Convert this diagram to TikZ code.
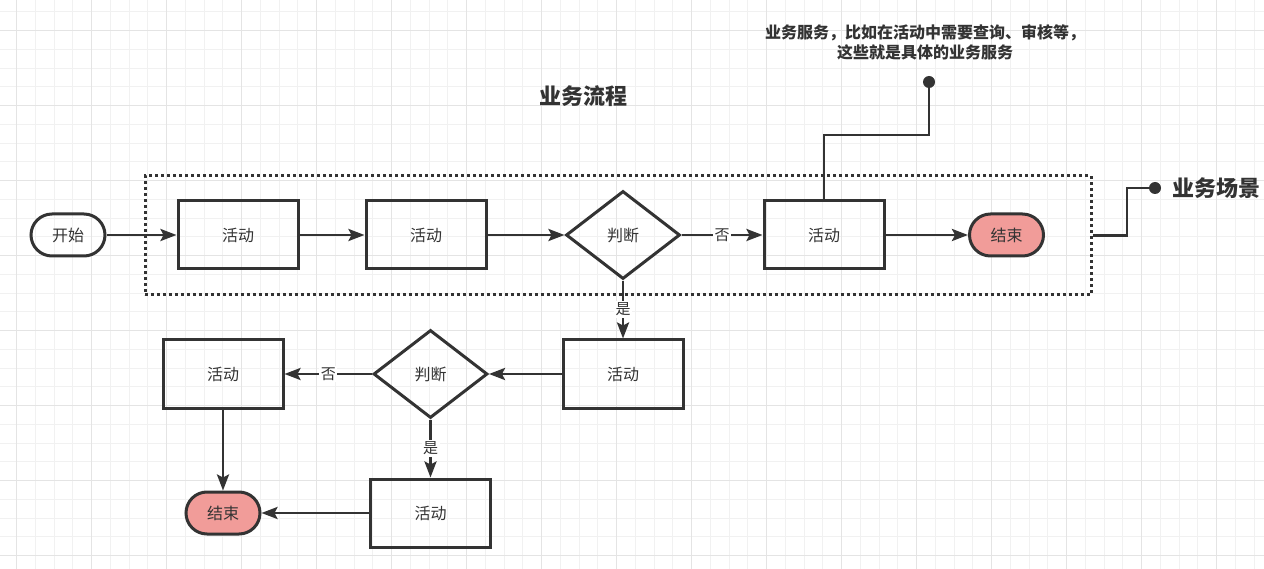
\documentclass[tikz,border=0pt]{standalone}
\usepackage{fontspec}
\setmainfont{Noto Sans CJK SC}
\usetikzlibrary{arrows.meta,shapes.geometric}
\definecolor{ln}{HTML}{333333}
\definecolor{gmin}{HTML}{F1F1F1}
\definecolor{gmaj}{HTML}{E4E4E4}
\definecolor{endfill}{HTML}{F19C99}
\begin{document}
\begin{tikzpicture}[x=1pt,y=-1pt,
  every node/.style={text=ln},
  act/.style={draw=ln, line width=3pt, minimum width=120pt, minimum height=68pt, inner sep=0pt, font=\fontsize{16}{16}\selectfont},
  term/.style={draw=ln, line width=3pt, rounded corners=21pt, minimum width=74pt, minimum height=42pt, inner sep=0pt, font=\fontsize{16}{16}\selectfont},
  endterm/.style={term, fill=endfill},
  dec/.style={diamond, draw=ln, line width=3pt, minimum width=114pt, minimum height=88pt, inner sep=0pt, font=\fontsize{16}{16}\selectfont},
  arr/.style={draw=ln, line width=2.7pt, -{Stealth[length=16pt,width=12pt,inset=3pt]}},
  plain/.style={draw=ln, line width=2.6pt},
  lbl/.style={fill=white, inner sep=1.5pt, font=\fontsize{15}{15}\selectfont},
  dotend/.style={circle, fill=ln, minimum size=12pt, inner sep=0pt},
  title/.style={font=\fontsize{22}{22}\selectfont\bfseries}
]
\useasboundingbox (0,0) rectangle (1264,569);
\fill[white] (0,0) rectangle (1264,569);
% grid
\foreach \i in {0,...,68} {
  \draw[gmin, line width=1pt] ({-2.05+18.75*\i},0) -- ({-2.05+18.75*\i},569);
}
\foreach \i in {0,...,31} {
  \draw[gmin, line width=1pt] (0,{-6.8+18.75*\i}) -- (1264,{-6.8+18.75*\i});
}
\foreach \i in {0,...,17} {
  \draw[gmaj, line width=1pt] ({16.7+75*\i},0) -- ({16.7+75*\i},569);
}
\foreach \i in {0,...,8} {
  \draw[gmaj, line width=1pt] (0,{-44.3+75*\i}) -- (1264,{-44.3+75*\i});
}

% scene box
\node[draw=ln, line width=3pt, dash pattern=on 3pt off 3pt, minimum width=946pt, minimum height=119pt, inner sep=0pt] (scene) at (618,235.5) {};

% nodes
\node[term] (start) at (68,235) {开始};
\node[act] (a1) at (238,235) {活动};
\node[act] (a2) at (426,235) {活动};
\node[dec] (d1) at (623,235) {判断};
\node[act] (a3) at (824,235) {活动};
\node[endterm] (e1) at (1006.5,235) {结束};
\node[act] (a4) at (623,374) {活动};
\node[dec] (d2) at (430.5,374) {判断};
\node[act] (a5) at (223,374) {活动};
\node[act] (a6) at (430.5,513) {活动};
\node[endterm] (e2) at (223,513) {结束};

% titles
\node[title] (t1) at (583,96) {业务流程};
\node[title, anchor=west] (t2) at (1169,188) {业务场景};
\node[align=center, font=\fontsize{16}{20}\selectfont\bfseries] (t3) at (925,42) {业务服务，比如在活动中需要查询、审核等，\\这些就是具体的业务服务};

% dots
\node[dotend] (p1) at (929,82) {};
\node[dotend] (p2) at (1155,188) {};
\coordinate (c1) at (824,135);
\coordinate (c2) at (1127,235.5);

% edges
\draw[arr] (start) -- (a1);
\draw[arr] (a1) -- (a2);
\draw[arr] (a2) -- (d1);
\draw[arr] (d1) -- node[lbl] {否} (a3);
\draw[arr] (a3) -- (e1);
\draw[arr] (d1) -- node[lbl] {是} (a4);
\draw[arr] (a4) -- (d2);
\draw[arr] (d2) -- node[lbl] {否} (a5);
\draw[arr] (d2) -- node[lbl] {是} (a6);
\draw[arr] (a5) -- (e2);
\draw[arr] (a6) -- (e2);
\draw[plain] (a3.north) -- (c1) -| (p1.center);
\draw[plain] (scene.east) -- (c2) |- (p2.center);
\end{tikzpicture}
\end{document}
